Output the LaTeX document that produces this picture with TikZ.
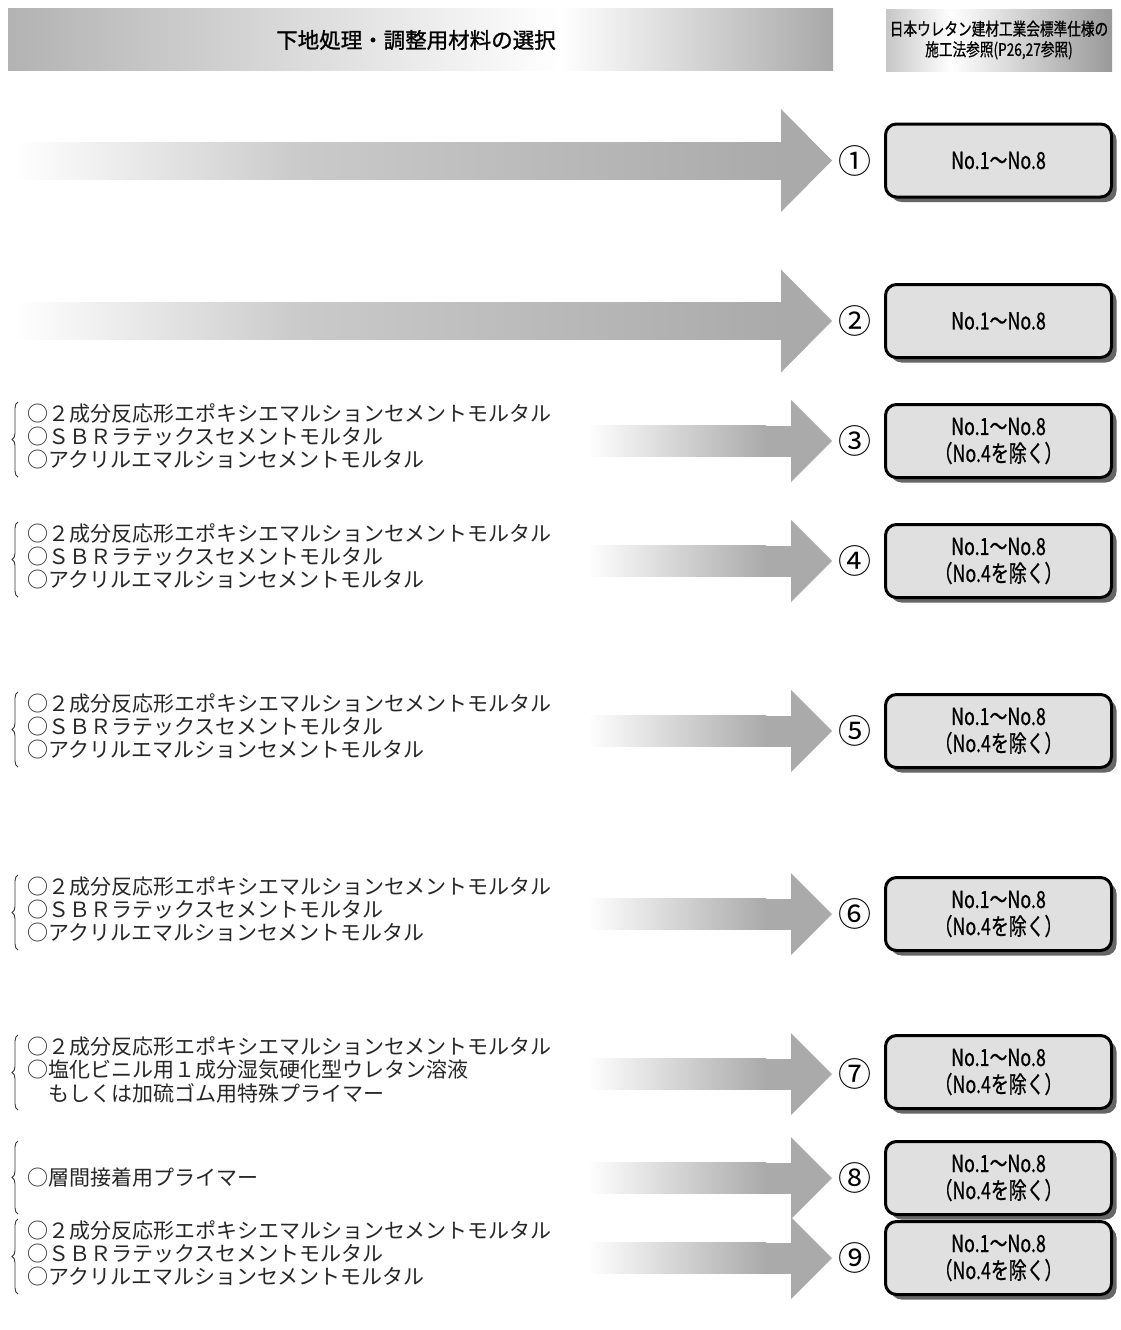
\documentclass[tikz,border=0pt]{standalone}
\usepackage{fontspec}
\usepackage{graphicx}
\setmainfont{Noto Sans CJK JP}
\newfontfamily\jpbold[FakeBold=1.2]{Noto Sans CJK JP}
\newfontfamily\jpmed[FakeBold=0.8]{Noto Sans CJK JP}
\usetikzlibrary{decorations.pathreplacing,shadows}
\definecolor{agray}{RGB}{170,170,170}
\definecolor{mgray}{RGB}{202,202,202}
\definecolor{boxfill}{RGB}{224,224,224}
\newcommand{\narrowtxt}[1]{\scalebox{0.76}[1]{#1}}
\tikzset{
  nobox/.style={draw=black, line width=3pt, rounded corners=11pt, fill=boxfill,
    minimum width=226pt, minimum height=73pt, inner sep=0pt, align=center,
    font=\jpmed\fontsize{23.5}{27}\selectfont,
    drop shadow={shadow xshift=5pt, shadow yshift=-5pt, fill=black!60, opacity=1}},
  circnum/.style={font=\fontsize{33}{33}\selectfont, inner sep=0pt},
  listtxt/.style={anchor=west, inner sep=0pt, font=\fontsize{21}{24}\selectfont, text=black!85},
  brc/.style={decorate, decoration={brace, amplitude=6pt}, draw=black!80, line width=0.9pt},
}
\begin{document}
\begin{tikzpicture}[x=1pt,y=-1pt]
\useasboundingbox (0,0) rectangle (1121,1330);
% header left
\shade[left color=black!30, right color=white] (8,9) rectangle (561,71);
\shade[left color=white, right color=black!34] (560,9) rectangle (833,71);
\node[font=\jpbold\fontsize{21.5}{22}\selectfont, inner sep=0pt] (title) at (416,40) {下地処理・調整用材料の選択};
% header right
\shade[left color=black!22, right color=white] (886,10) rectangle (951,72);
\shade[left color=white, right color=black!40] (950,10) rectangle (1112,72);
\node[font=\jpmed\fontsize{17.5}{20.5}\selectfont, inner sep=0pt, align=center] (ref) at (999,40)
  {\scalebox{0.78}[1]{日本ウレタン建材工業会標準仕様の}\\\scalebox{0.78}[1]{施工法参照(P26,27参照)}};
% big arrows 1,2
\foreach \c in {160.5,321} {
  \shade[left color=white, right color=mgray] (15,\c-18.5) rectangle (301,\c+18.5);
  \shade[left color=mgray, right color=agray] (300,\c-18.5) rectangle (782,\c+18.5);
  \fill[agray] (781,\c-51.5) -- (832,\c) -- (781,\c+51.5) -- cycle;
}
% small arrows 3-9
\foreach \c in {441,561,731,914,1074,1178,1258} {
  \shade[left color=white, right color=agray] (587,\c-15.5) rectangle (766,\c+15.5);
  \fill[agray] (765,\c-15.5) rectangle (792,\c+15.5);
  \fill[agray] (791,\c-41) -- (832,\c) -- (791,\c+41) -- cycle;
}
% circled numbers and boxes
\node[circnum] (c1) at (855,160.5) {①};
\node[circnum] (c2) at (855,321) {②};
\node[circnum] (c3) at (855,441) {③};
\node[circnum] (c4) at (855,561) {④};
\node[circnum] (c5) at (855,731) {⑤};
\node[circnum] (c6) at (855,914) {⑥};
\node[circnum] (c7) at (855,1074) {⑦};
\node[circnum] (c8) at (855,1178) {⑧};
\node[circnum] (c9) at (855,1258) {⑨};
\node[nobox] (b1) at (998.5,160.5) {\narrowtxt{No.1～No.8}};
\node[nobox] (b2) at (998.5,321) {\narrowtxt{No.1～No.8}};
\foreach \c/\n in {441/3,561/4,731/5,914/6,1072/7,1178/8,1258/9} {
  \node[nobox] (b\n) at (998.5,\c) {\narrowtxt{No.1～No.8}\\\narrowtxt{（No.4を除く）}};
}
% lists
\foreach \c/\n in {441/3,561/4,731/5,914/6,1258/9} {
  \draw[brc] (18,\c+36) -- (18,\c-39);
  \node[listtxt] (l\n a) at (27,\c-28) {○２成分反応形エポキシエマルションセメントモルタル};
  \node[listtxt] (l\n b) at (27,\c-4) {○ＳＢＲラテックスセメントモルタル};
  \node[listtxt] (l\n c) at (27,\c+19) {○アクリルエマルションセメントモルタル};
}
\draw[brc] (18,1074+36) -- (18,1074-39);
\node[listtxt] (l7a) at (27,1074-28) {○２成分反応形エポキシエマルションセメントモルタル};
\node[listtxt] (l7b) at (27,1074-4) {○塩化ビニル用１成分湿気硬化型ウレタン溶液};
\node[listtxt] (l7c) at (27,1074+19) {　もしくは加硫ゴム用特殊プライマー};
\draw[brc] (18,1178+36) -- (18,1178-37);
\node[listtxt] (l8a) at (27,1178) {○層間接着用プライマー};
\end{tikzpicture}
\end{document}
